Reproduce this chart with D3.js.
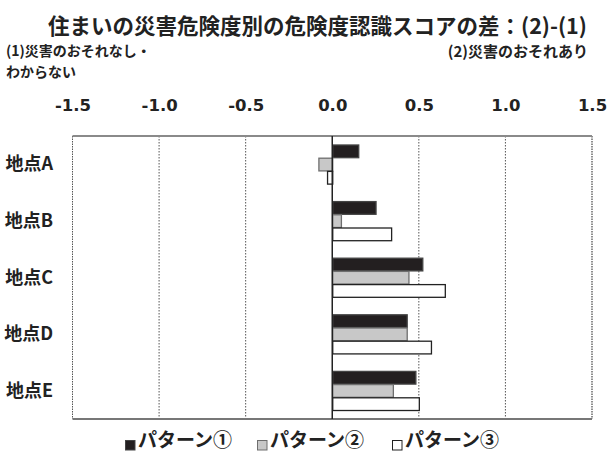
<!DOCTYPE html>
<html>
<head>
<meta charset="utf-8">
<script src="https://cdn.jsdelivr.net/npm/d3@7"></script>
<style>
  html, body { margin: 0; padding: 0; background: #fff; }
  svg { display: block; }
  .jp { font-family: "Noto Sans CJK JP", "Noto Sans", sans-serif; font-weight: bold; fill: #222; }
</style>
</head>
<body>
<svg id="chart" width="608" height="453"></svg>
<script>
// Sites and risk-awareness score differences, (2) minus (1), per pattern
const sites = ["地点A", "地点B", "地点C", "地点D", "地点E"];
const seriesNames = ["パターン①", "パターン②", "パターン③"];
const pattern1 = [0.15, 0.25, 0.52, 0.43, 0.48];
const pattern2 = [-0.08, 0.05, 0.44, 0.43, 0.35];
const pattern3 = [-0.03, 0.34, 0.65, 0.57, 0.50];
const tickValues = [-1.5, -1.0, -0.5, 0.0, 0.5, 1.0, 1.5];

const seriesValues = [pattern1, pattern2, pattern3];
const fills = ["#231f20", "#c8c8c8", "#ffffff"];
const strokes = ["#444444", "#6e6e6e", "#222222"];

const svg = d3.select("#chart");
const plot = { left: 72.5, right: 592, top: 136, bottom: 419 };

const x = d3.scaleLinear().domain([-1.5, 1.5]).range([plot.left, plot.right]);
const y = d3.scaleBand().domain(sites).range([plot.top, plot.bottom])
  .paddingInner(0.3).paddingOuter(0.15);
const ySub = d3.scaleBand().domain(d3.range(seriesNames.length)).range([0, y.bandwidth()]);

// Title and side captions
svg.append("text").attr("class", "jp")
  .attr("x", 48).attr("y", 34)
  .style("font-size", "21.5px")
  .text("住まいの災害危険度別の危険度認識スコアの差：(2)-(1)");

const leftCap = svg.append("text").attr("class", "jp").style("font-size", "14px");
leftCap.append("tspan").attr("x", 6).attr("y", 56).text("(1)災害のおそれなし・");
leftCap.append("tspan").attr("x", 6).attr("y", 76.5).text("わからない");

svg.append("text").attr("class", "jp")
  .attr("x", 588).attr("y", 57).attr("text-anchor", "end").style("font-size", "15px")
  .text("(2)災害のおそれあり");

// Dotted gridlines
svg.append("g").selectAll("line")
  .data(tickValues.filter(v => v !== 0 && Math.abs(v) !== 1.5))
  .join("line")
  .attr("x1", d => x(d)).attr("x2", d => x(d))
  .attr("y1", plot.top).attr("y2", plot.bottom)
  .attr("stroke", "#555").attr("stroke-width", 1).attr("stroke-dasharray", "1.5,1.5");

// Plot frame
const frame = svg.append("g");
frame.append("line").attr("x1", plot.left).attr("x2", plot.left)
  .attr("y1", plot.top).attr("y2", plot.bottom)
  .attr("stroke", "#555").attr("stroke-width", 1).attr("stroke-dasharray", "1.5,1");
frame.append("line").attr("x1", plot.right).attr("x2", plot.right)
  .attr("y1", plot.top).attr("y2", plot.bottom)
  .attr("stroke", "#444").attr("stroke-width", 1.2).attr("stroke-dasharray", "1.5,1");
frame.append("line").attr("x1", plot.left).attr("x2", plot.right)
  .attr("y1", plot.top).attr("y2", plot.top)
  .attr("stroke", "#8a8a8a").attr("stroke-width", 1.8);
frame.append("line").attr("x1", plot.left).attr("x2", plot.right)
  .attr("y1", plot.bottom).attr("y2", plot.bottom)
  .attr("stroke", "#777").attr("stroke-width", 1.8);

// Top axis tick labels (plain hyphen for negatives)
const axis = d3.axisTop(x).tickValues(tickValues).tickSize(0).tickPadding(0)
  .tickFormat(d => d3.format(".1f")(d).replace("\u2212", "-"));
const axisG = svg.append("g").attr("transform", `translate(0,111)`).call(axis);
axisG.select(".domain").remove();
axisG.selectAll("text")
  .attr("fill", "#222").attr("dy", 0)
  .style("font-family", "'DejaVu Sans', Verdana, sans-serif")
  .style("font-weight", "bold")
  .style("font-size", "16.5px");

// Bars
const groups = svg.append("g").selectAll("g")
  .data(sites)
  .join("g")
  .attr("transform", d => `translate(0,${y(d)})`);

groups.selectAll("rect")
  .data((d, i) => seriesValues.map((vals, s) => ({ s, v: vals[i] })))
  .join("rect")
  .attr("x", d => x(Math.min(0, d.v)) + 0.5)
  .attr("y", d => ySub(d.s) + 0.5)
  .attr("width", d => Math.abs(x(d.v) - x(0)))
  .attr("height", ySub.bandwidth() - 0.5)
  .attr("fill", d => fills[d.s])
  .attr("stroke", d => strokes[d.s])
  .attr("stroke-width", 1.3);

// Zero line
svg.append("line").attr("x1", x(0)).attr("x2", x(0))
  .attr("y1", plot.top).attr("y2", plot.bottom)
  .attr("stroke", "#222").attr("stroke-width", 1.5);

// Category labels
svg.append("g").selectAll("text")
  .data(sites)
  .join("text")
  .attr("class", "jp")
  .attr("x", 53)
  .attr("y", d => y(d) + y.bandwidth() / 2 - 2)
  .attr("text-anchor", "end")
  .attr("dominant-baseline", "central")
  .style("font-size", "18px")
  .text(d => d);

// Legend
const legendX = [125, 257, 392];
const legend = svg.append("g").selectAll("g")
  .data(seriesNames)
  .join("g")
  .attr("transform", (d, i) => `translate(${legendX[i]},0)`);
legend.append("rect")
  .attr("x", 0.5).attr("y", 440.5).attr("width", 9.5).attr("height", 9.5)
  .attr("fill", (d, i) => fills[i])
  .attr("stroke", (d, i) => strokes[i]).attr("stroke-width", 1);
legend.append("text").attr("class", "jp")
  .attr("x", 13).attr("y", 447)
  .style("font-size", "19px")
  .text(d => d);
</script>
</body>
</html>
